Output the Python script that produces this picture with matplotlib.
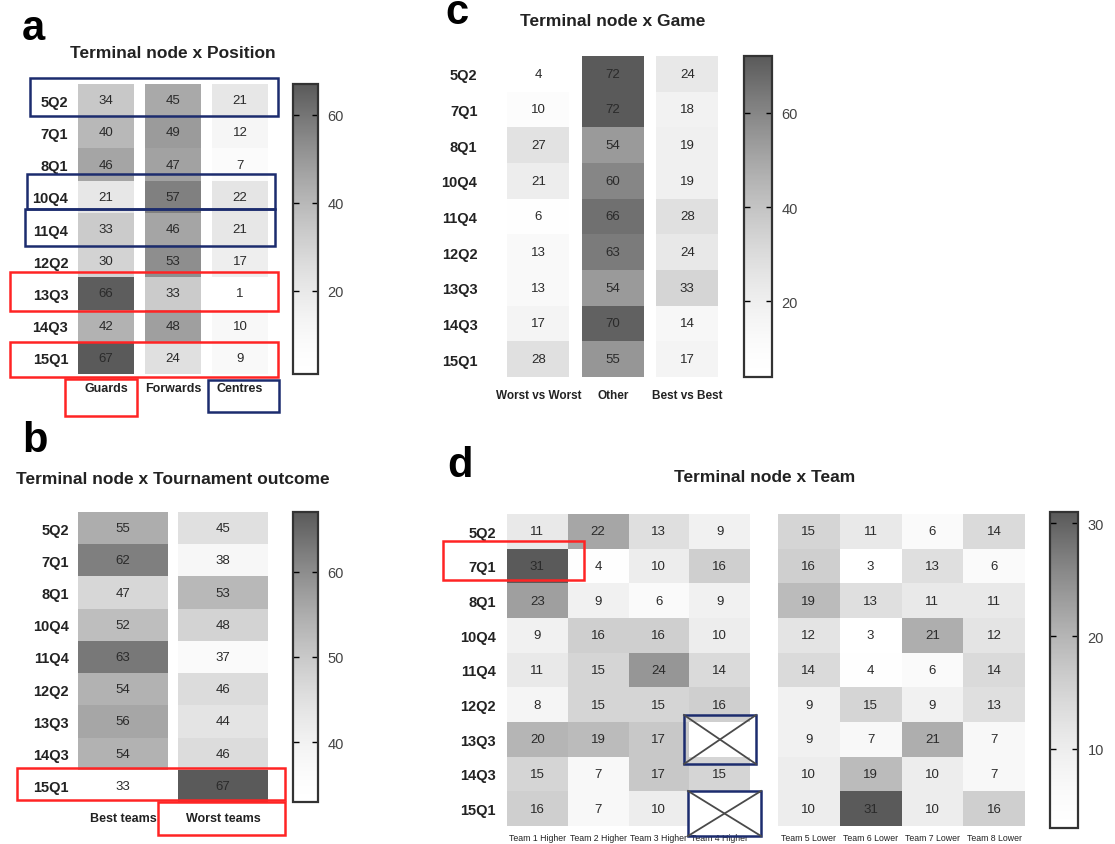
import numpy as np
import matplotlib

matplotlib.use("Agg")
import matplotlib.pyplot as plt
from matplotlib.cm import ScalarMappable
from matplotlib.colors import LinearSegmentedColormap, Normalize
from matplotlib.lines import Line2D
from matplotlib.patches import Rectangle

W, H = 1115, 845

# --- data ------------------------------------------------------------------
nodes = ["5Q2", "7Q1", "8Q1", "10Q4", "11Q4", "12Q2", "13Q3", "14Q3", "15Q1"]

position_cols = ["Guards", "Forwards", "Centres"]
guards = [34, 40, 46, 21, 33, 30, 66, 42, 67]
forwards = [45, 49, 47, 57, 46, 53, 33, 48, 24]
centres = [21, 12, 7, 22, 21, 17, 1, 10, 9]

outcome_cols = ["Best teams", "Worst teams"]
best_teams = [55, 62, 47, 52, 63, 54, 56, 54, 33]
worst_teams = [45, 38, 53, 48, 37, 46, 44, 46, 67]

game_cols = ["Worst vs Worst", "Other", "Best vs Best"]
worst_vs_worst = [4, 10, 27, 21, 6, 13, 13, 17, 28]
other_game = [72, 72, 54, 60, 66, 63, 54, 70, 55]
best_vs_best = [24, 18, 19, 19, 28, 24, 33, 14, 17]

higher_cols = ["Team 1 Higher", "Team 2 Higher", "Team 3 Higher", "Team 4 Higher"]
team1_higher = [11, 31, 23, 9, 11, 8, 20, 15, 16]
team2_higher = [22, 4, 9, 16, 15, 15, 19, 7, 7]
team3_higher = [13, 10, 6, 16, 24, 15, 17, 17, 10]
team4_higher = [9, 16, 9, 10, 14, 16, np.nan, 15, np.nan]

lower_cols = ["Team 5 Lower", "Team 6 Lower", "Team 7 Lower", "Team 8 Lower"]
team5_lower = [15, 16, 19, 12, 14, 9, 9, 10, 10]
team6_lower = [11, 3, 13, 3, 4, 15, 7, 19, 31]
team7_lower = [6, 13, 11, 21, 6, 9, 21, 10, 10]
team8_lower = [14, 6, 11, 12, 14, 13, 7, 7, 16]

# --- style -----------------------------------------------------------------
plt.rcParams["font.family"] = ["Liberation Sans", "DejaVu Sans"]
# white stays white longer at the low end, like the original grey map
cmap = LinearSegmentedColormap.from_list("wgrey", ["#ffffff", "#5a5a5a"], gamma=1.6)
NAVY = "#1c2c6e"
RED = "#ff2424"

fig = plt.figure(figsize=(W / 100, H / 100), dpi=100)


def px_axes(x0, y0, x1, y1):
    return fig.add_axes([x0 / W, 1 - y1 / H, (x1 - x0) / W, (y1 - y0) / H])


def heatmap(ax, columns, col_labels, norm, width=1.0, row_labels=True,
            row_pad=4, col_fs=8, col_weight="bold", col_pad=6):
    n = len(nodes)
    for j, col in enumerate(columns):
        vals = np.ma.masked_invalid(np.asarray(col, dtype=float)).reshape(-1, 1)
        ax.pcolormesh([j - width / 2, j + width / 2], np.arange(n + 1) - 0.5,
                      vals, cmap=cmap, norm=norm)
        for i, v in enumerate(col):
            if not np.isnan(v):
                ax.text(j, i, f"{v:g}", ha="center", va="center",
                        fontsize=9.5, color="#2a2a2a")
    ax.set_xlim(-0.5, len(columns) - 0.5)
    ax.set_ylim(n - 0.5, -0.5)
    ax.set_xticks(range(len(col_labels)))
    ax.set_xticklabels(col_labels, fontsize=col_fs, fontweight=col_weight,
                       color="#222222")
    ax.set_yticks(range(n))
    if row_labels:
        ax.set_yticklabels(nodes, fontsize=10.5, fontweight="bold", color="#222222")
    else:
        ax.set_yticklabels([])
    ax.tick_params(length=0)
    ax.tick_params(axis="y", pad=row_pad)
    ax.tick_params(axis="x", pad=col_pad)
    for s in ax.spines.values():
        s.set_visible(False)


def colorbar(cax, norm, ticks):
    cb = fig.colorbar(ScalarMappable(norm=norm, cmap=cmap), cax=cax)
    cb.set_ticks(ticks)
    cb.outline.set_linewidth(1.6)
    cb.outline.set_edgecolor("#333333")
    cax.tick_params(left=True, right=True, direction="in", length=4,
                    width=1, labelsize=10.5, labelcolor="#444444", pad=7)
    return cb


def box(x0, y0, x1, y1, color, lw=1.8, cross=False):
    fig.add_artist(Rectangle((x0 / W, 1 - y1 / H), (x1 - x0) / W, (y1 - y0) / H,
                             transform=fig.transFigure, fill=False,
                             edgecolor=color, linewidth=lw))
    if cross:
        for ya, yb in ((y0, y1), (y1, y0)):
            fig.add_artist(Line2D([x0 / W, x1 / W], [1 - ya / H, 1 - yb / H],
                                  transform=fig.transFigure, color="#4a4a4a",
                                  linewidth=1.3))


def panel_label(x, y, s):
    fig.text(x / W, 1 - y / H, s, fontsize=30, fontweight="bold",
             ha="left", va="baseline", color="black")


def title(x, y, s):
    fig.text(x / W, 1 - y / H, s, fontsize=12.5, fontweight="bold",
             ha="center", va="center", color="#222222")


# --- a: Position -------------------------------------------------------------
norm_a = Normalize(1, 67)
ax_a = px_axes(72.5, 85, 273.5, 375)
heatmap(ax_a, [guards, forwards, centres], position_cols, norm_a, width=0.84,
        row_pad=3, col_fs=9, col_pad=6)
colorbar(px_axes(293, 85, 318, 375), norm_a, [20, 40, 60])
panel_label(22, 40, "a")
title(173, 53, "Terminal node x Position")

# --- b: Tournament outcome ---------------------------------------------------
norm_b = Normalize(33, 67)
ax_b = px_axes(73, 513, 273, 803)
heatmap(ax_b, [best_teams, worst_teams], outcome_cols, norm_b, width=0.9,
        row_pad=3, col_fs=9, col_pad=7)
colorbar(px_axes(293, 513, 318, 803), norm_b, [40, 50, 60])
panel_label(22, 452, "b")
title(173, 480, "Terminal node x Tournament outcome")

# --- c: Game -----------------------------------------------------------------
norm_c = Normalize(4, 72)
ax_c = px_axes(501, 57, 724.5, 378)
heatmap(ax_c, [worst_vs_worst, other_game, best_vs_best], game_cols, norm_c,
        width=0.83, row_pad=17, col_fs=8.5, col_pad=9)
colorbar(px_axes(744, 57, 772, 378), norm_c, [20, 40, 60])
panel_label(445, 24, "c")
title(613, 21, "Terminal node x Game")

# --- d: Team -----------------------------------------------------------------
norm_d = Normalize(3, 31)
ax_d1 = px_axes(507, 515, 750, 827)
heatmap(ax_d1, [team1_higher, team2_higher, team3_higher, team4_higher],
        higher_cols, norm_d, row_pad=8, col_fs=6.3, col_weight="normal", col_pad=5)
ax_d2 = px_axes(778, 515, 1025, 827)
heatmap(ax_d2, [team5_lower, team6_lower, team7_lower, team8_lower],
        lower_cols, norm_d, row_labels=False, col_fs=6.3, col_weight="normal",
        col_pad=5)
colorbar(px_axes(1050, 513, 1078, 829), norm_d, [10, 20, 30])
panel_label(447, 477, "d")
title(765, 478, "Terminal node x Team")

# --- highlight boxes ---------------------------------------------------------
box(30, 79, 278, 117, NAVY)
box(27, 175, 275, 210, NAVY)
box(25, 210, 275, 247, NAVY)
box(10, 273, 278, 312, RED)
box(10, 343, 278, 378, RED)
box(65, 380, 137, 417, RED)
box(208, 381, 279, 413, NAVY)

box(17, 769, 285, 801, RED)
box(158, 803, 285, 836, RED)

box(443, 542, 584, 581, RED)
box(684, 716, 756, 765, NAVY, cross=True)
box(688, 792, 761, 837, NAVY, cross=True)

fig.savefig("out.png", dpi=100)
